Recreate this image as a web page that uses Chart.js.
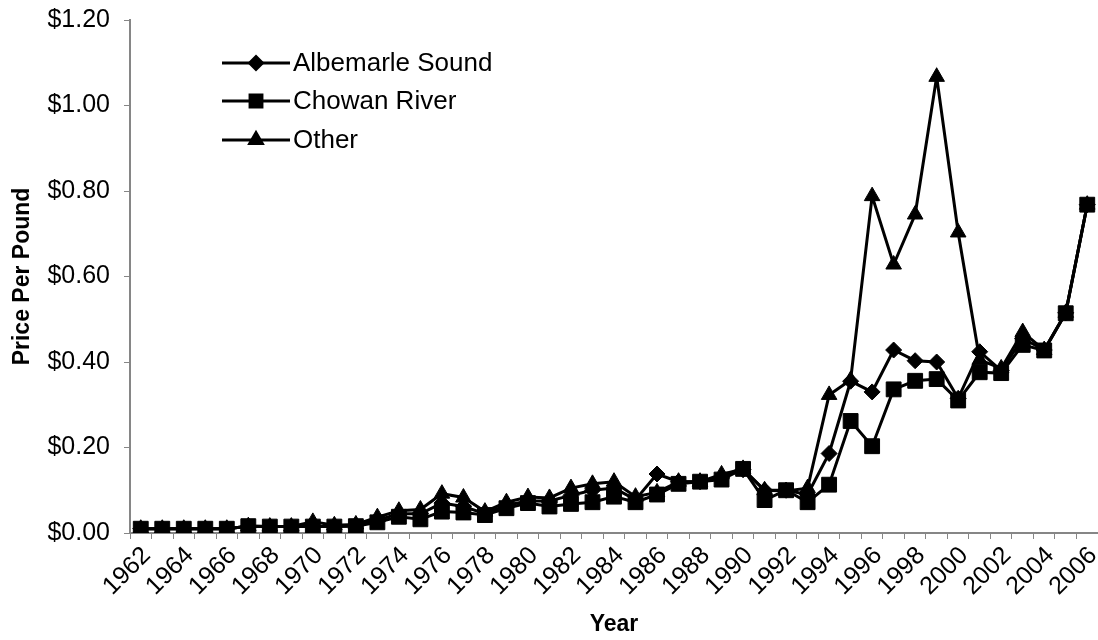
<!DOCTYPE html>
<html>
<head>
<meta charset="utf-8">
<title>Price Per Pound</title>
<script src="https://cdn.jsdelivr.net/npm/chart.js"></script>
<style>
  html, body { margin: 0; padding: 0; background: #fff; }
  #wrap { width: 1098px; height: 640px; }
</style>
</head>
<body>
<div id="wrap"><canvas id="myChart" width="1098" height="640"></canvas></div>
<script>
const years = [
  '1962', '1963', '1964', '1965', '1966', '1967', '1968', '1969', '1970',
  '1971', '1972', '1973', '1974', '1975', '1976', '1977', '1978', '1979',
  '1980', '1981', '1982', '1983', '1984', '1985', '1986', '1987', '1988',
  '1989', '1990', '1991', '1992', '1993', '1994', '1995', '1996', '1997',
  '1998', '1999', '2000', '2001', '2002', '2003', '2004', '2005', '2006'
]

const albemarle = [
  0.010, 0.010, 0.010, 0.010, 0.010, 0.016, 0.015, 0.015, 0.015,
  0.015, 0.018, 0.030, 0.045, 0.045, 0.070, 0.062, 0.045, 0.065,
  0.075, 0.075, 0.088, 0.100, 0.105, 0.078, 0.138, 0.120, 0.120,
  0.130, 0.148, 0.100, 0.100, 0.090, 0.186, 0.355, 0.330, 0.428,
  0.403, 0.400, 0.315, 0.424, 0.380, 0.455, 0.428, 0.515, 0.768
]

const chowan = [
  0.010, 0.010, 0.010, 0.010, 0.010, 0.016, 0.015, 0.015, 0.015,
  0.015, 0.016, 0.025, 0.038, 0.032, 0.050, 0.048, 0.042, 0.058,
  0.070, 0.062, 0.068, 0.072, 0.085, 0.072, 0.090, 0.115, 0.120,
  0.125, 0.150, 0.077, 0.100, 0.072, 0.113, 0.262, 0.203, 0.336,
  0.356, 0.360, 0.310, 0.376, 0.374, 0.440, 0.427, 0.514, 0.768
]

const other = [
  0.010, 0.010, 0.010, 0.010, 0.010, 0.016, 0.015, 0.015, 0.026,
  0.018, 0.020, 0.037, 0.052, 0.055, 0.092, 0.083, 0.050, 0.072,
  0.084, 0.082, 0.105, 0.115, 0.120, 0.085, 0.095, 0.120, 0.120,
  0.137, 0.150, 0.100, 0.098, 0.105, 0.323, 0.358, 0.788, 0.628,
  0.745, 1.067, 0.703, 0.405, 0.385, 0.470, 0.428, 0.515, 0.768
]

const seriesNames = ['Albemarle Sound', 'Chowan River', 'Other']

const font = 'Liberation Sans, Arial, sans-serif'
const axisGray = '#868686'

function series(label, data, style, radius) {
  return {
    label: label,
    data: data,
    borderColor: '#000',
    backgroundColor: '#000',
    borderWidth: 3,
    tension: 0,
    pointStyle: style,
    pointRadius: radius,
    pointHoverRadius: radius,
    pointBorderWidth: 1,
    pointBackgroundColor: '#000',
    pointBorderColor: '#000'
  }
}

// legend drawn inside the plot, top left, with line + marker samples
const insideLegend = {
  id: 'insideLegend',
  afterDraw(chart) {
    const ctx = chart.ctx
    const rows = [63, 101, 140]
    ctx.save()
    chart.data.datasets.forEach((ds, i) => {
      const y = rows[i]
      ctx.strokeStyle = '#000'
      ctx.lineWidth = 3
      ctx.beginPath()
      ctx.moveTo(222, y)
      ctx.lineTo(290, y)
      ctx.stroke()
      ctx.fillStyle = '#000'
      Chart.helpers.drawPoint(ctx, {
        pointStyle: ds.pointStyle,
        radius: ds.pointRadius * 0.8,
        borderWidth: 1,
        rotation: 0
      }, 256, y)
      ctx.fill()
      ctx.font = '26px ' + font
      ctx.textBaseline = 'middle'
      ctx.textAlign = 'left'
      ctx.fillText(ds.label, 293, y + 1)
    })
    ctx.restore()
  }
}

// the rotated last year label would otherwise reserve room on the right
function noSidePadding(scale) {
  scale.height = 107
  scale.paddingLeft = 0
  scale.paddingRight = 0
}

const context = document.getElementById('myChart').getContext('2d')
const myChart = new Chart(context, {
  type: 'line',
  data: {
    labels: years,
    datasets: [
      series(seriesNames[0], albemarle, 'rectRot', 8),
      series(seriesNames[1], chowan, 'rect', 10.5),
      series(seriesNames[2], other, 'triangle', 9)
    ]
  },
  options: {
    responsive: false,
    animation: false,
    events: [],
    layout: {
      autoPadding: false,
      padding: { top: 20, right: 0, bottom: 0, left: 0 }
    },
    plugins: {
      legend: { display: false },
      tooltip: { enabled: false }
    },
    scales: {
      x: {
        offset: true,
        grid: {
          offset: true,
          drawOnChartArea: false,
          drawTicks: true,
          tickLength: 6,
          color: axisGray
        },
        border: { color: axisGray, width: 2 },
        ticks: {
          autoSkip: false,
          minRotation: 45,
          maxRotation: 45,
          padding: 2,
          labelOffset: 6,
          color: '#000',
          font: { family: font, size: 25 },
          callback: function (value, index) {
            return index % 2 === 0 ? this.getLabelForValue(value) : ''
          }
        },
        title: {
          display: true,
          text: 'Year',
          color: '#000',
          padding: { top: 0, bottom: 2 },
          font: { family: font, size: 23, weight: 'bold' }
        },
        afterFit: noSidePadding
      },
      y: {
        min: 0,
        max: 1.2,
        grid: {
          drawOnChartArea: false,
          drawTicks: true,
          tickLength: 6,
          color: axisGray
        },
        border: { color: axisGray, width: 2 },
        ticks: {
          stepSize: 0.2,
          padding: 14,
          color: '#000',
          font: { family: font, size: 25 },
          callback: (v) => '$' + Number(v).toFixed(2)
        },
        title: {
          display: true,
          text: 'Price Per Pound',
          color: '#000',
          padding: { top: 9, bottom: 0 },
          font: { family: font, size: 23, weight: 'bold' }
        },
        afterFit: (scale) => {
          scale.width = 130
          scale.paddingTop = 0
          scale.paddingBottom = 0
        }
      }
    }
  },
  plugins: [insideLegend]
})
</script>
</body>
</html>
